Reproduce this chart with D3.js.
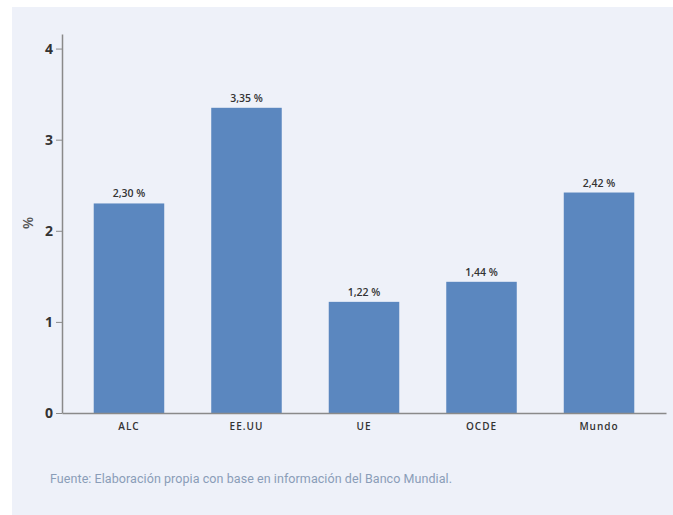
<!DOCTYPE html>
<html>
<head>
<meta charset="utf-8">
<script src="https://cdn.jsdelivr.net/npm/d3@7"></script>
<style>
  body { margin: 0; background: #ffffff; }
</style>
</head>
<body>
<div id="chart"></div>
<script>
const categories = ["ALC", "EE.UU", "UE", "OCDE", "Mundo"];
const values = [2.30, 3.35, 1.22, 1.44, 2.42];
const yTicks = [0, 1, 2, 3, 4];
const source = "Fuente: Elaboración propia con base en información del Banco Mundial.";

const width = 673;
const height = 515;

const svg = d3.select("#chart")
  .append("svg")
  .attr("width", width)
  .attr("height", height)
  .attr("viewBox", [0, 0, width, height]);

// panel background
svg.append("rect")
  .attr("x", 12).attr("y", 7)
  .attr("width", width - 12).attr("height", height - 7)
  .attr("fill", "#eef1f9");

const x = d3.scaleBand()
  .domain(categories)
  .range([62, 666])
  .paddingInner(0.4)
  .paddingOuter(0.27);

const y = d3.scaleLinear()
  .domain([0, 4.16])
  .range([413, 34]);

const fmt = v => d3.format(".2f")(v).replace(".", ",") + " %";

// bars
svg.selectAll("rect.bar")
  .data(values)
  .enter()
  .append("rect")
  .attr("class", "bar")
  .attr("x", (d, i) => x(categories[i]))
  .attr("y", d => y(d))
  .attr("width", x.bandwidth())
  .attr("height", d => y(0) - y(d))
  .attr("fill", "#5b87bf");

// value labels
svg.selectAll("text.val")
  .data(values)
  .enter()
  .append("text")
  .attr("class", "val")
  .attr("x", (d, i) => x(categories[i]) + x.bandwidth() / 2)
  .attr("y", d => y(d) - 6)
  .attr("text-anchor", "middle")
  .attr("font-family", "Open Sans, DejaVu Sans, sans-serif")
  .attr("font-size", 10.5)
  .attr("font-weight", 600)
  .attr("fill", "#333")
  .text(d => fmt(d));

// x axis (baseline + labels)
const xAxis = svg.append("g")
  .attr("transform", `translate(0,${y(0)})`)
  .call(d3.axisBottom(x).tickSize(0).tickPadding(10));
xAxis.select(".domain").attr("stroke", "#8a8a8a").attr("stroke-width", 1.5);
xAxis.selectAll("text")
  .attr("font-family", "Open Sans, DejaVu Sans, sans-serif")
  .attr("font-size", 10)
  .attr("font-weight", 600)
  .attr("letter-spacing", 1)
  .attr("fill", "#333");

// y axis
const yAxis = svg.append("g")
  .attr("transform", "translate(62,0)")
  .call(d3.axisLeft(y).tickValues(yTicks).tickFormat(d3.format("d")).tickSize(6).tickSizeOuter(0).tickPadding(3));
yAxis.select(".domain").attr("stroke", "#8a8a8a").attr("stroke-width", 1.5);
yAxis.selectAll(".tick line").attr("stroke", "#8a8a8a");
yAxis.selectAll("text")
  .attr("font-family", "Open Sans, DejaVu Sans, sans-serif")
  .attr("font-size", 14)
  .attr("font-weight", 700)
  .attr("fill", "#333");

// y label
svg.append("text")
  .attr("transform", "translate(33,223) rotate(-90)")
  .attr("text-anchor", "middle")
  .attr("font-family", "Open Sans, DejaVu Sans, sans-serif")
  .attr("font-size", 14)
  .attr("font-weight", 600)
  .attr("fill", "#555")
  .text("%");

// source note
svg.append("text")
  .attr("x", 50)
  .attr("y", 483)
  .attr("font-family", "Roboto, Liberation Sans, sans-serif")
  .attr("font-size", 12.5)
  .attr("font-weight", 400)
  .attr("fill", "#8a9db8")
  .attr("textLength", 402)
  .text(source);
</script>
</body>
</html>
